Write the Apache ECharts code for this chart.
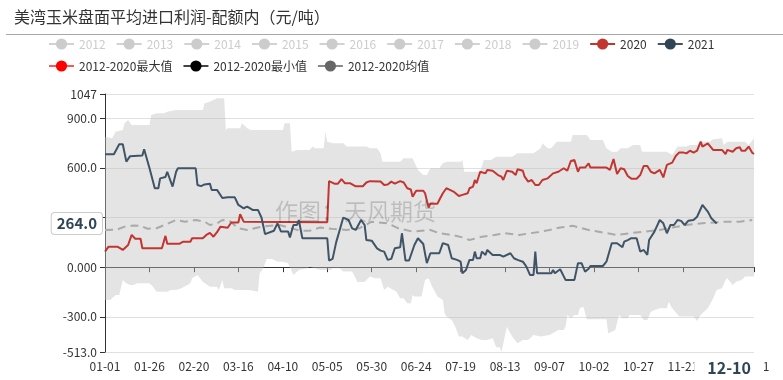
<!DOCTYPE html>
<html>
<head>
<meta charset="utf-8">
<script src="https://cdn.jsdelivr.net/npm/echarts@6/dist/echarts.min.js"></script>
<style>html,body{margin:0;padding:0;background:#fff}#main{width:783px;height:380px}</style>
</head>
<body>
<div id="main"></div>
<script>
// ---------- data ----------
const titleText = '美湾玉米盘面平均进口利润-配额内（元/吨）';
const watermarkText = '作图：天风期货';
const yMin = -513, yMax = 1047;
const yTickValues = [-513, -300, 0, 300, 600, 900, 1047];
const hiddenYears = ['2012', '2013', '2014', '2015', '2016', '2017', '2018', '2019'];
const pointerValue = 264.0;
const pointerDate = '12-10';

// categories: every calendar day (MM-DD) of a leap year
const categories = [];
for (let i = 0; i < 366; i++) {
  const d = new Date(Date.UTC(2020, 0, 1 + i));
  categories.push(String(d.getUTCMonth() + 1).padStart(2, '0') + '-' + String(d.getUTCDate()).padStart(2, '0'));
}

const data2020 = [
  ['01-01',94],['01-03',124],['01-08',124],['01-11',104],['01-12',104],['01-14',134],['01-16',195],['01-18',172],['01-21',172],['01-22',114],
  ['02-02',114],['02-04',189],['02-05',142],['02-12',142],['02-14',154],['02-18',154],['02-19',175],['02-25',175],['02-27',195],['02-29',207],
  ['03-02',184],['03-04',212],['03-06',245],['03-10',238],['03-12',270],['03-16',270],['03-17',320],['03-19',275],['03-20',272],
  ['05-05',272],['05-06',520],['05-09',505],['05-11',505],['05-13',532],['05-15',507],['05-18',507],['05-21',489],['05-25',489],['05-27',512],['05-29',520],
  ['06-04',518],['06-06',497],['06-08',500],['06-10',517],['06-12',505],['06-15',520],['06-17',512],['06-19',477],['06-21',470],['06-22',425],['06-24',462],['06-28',462],['06-29',447],
  ['07-01',360],['07-02',384],['07-06',384],['07-07',406],['07-09',447],['07-11',477],['07-13',467],['07-15',457],['07-18',430],['07-20',437],['07-23',447],['07-24',477],['07-26',487],['07-27',527],['07-28',507],['07-30',577],
  ['08-02',567],['08-03',588],['08-06',583],['08-07',583],['08-09',557],['08-11',547],['08-12',527],['08-14',583],['08-17',577],['08-19',557],['08-20',592],['08-23',583],['08-24',547],['08-26',517],['08-28',527],['08-30',497],
  ['09-01',497],['09-03',527],['09-06',537],['09-07',537],['09-09',567],['09-12',577],['09-15',598],['09-17',583],['09-19',642],['09-21',648],['09-23',577],['09-24',602],['09-27',602],['09-29',628],['09-30',602],
  ['10-09',602],['10-11',588],['10-13',654],['10-15',563],['10-17',598],['10-19',592],['10-21',551],['10-23',535],['10-26',535],['10-28',557],['10-30',612],
  ['11-01',612],['11-03',577],['11-05',567],['11-08',588],['11-10',543],['11-12',618],['11-15',632],['11-17',672],['11-19',694],['11-21',694],['11-23',688],['11-25',704],['11-27',692],['11-29',704],
  ['12-01',759],['12-02',729],['12-05',749],['12-06',749],['12-08',709],['12-13',709],['12-15',684],['12-16',709],['12-19',698],['12-21',719],['12-23',725],['12-24',704],['12-26',704],['12-28',729],['12-30',692],['12-31',684]
];

const data2021 = [
  ['01-01',683],['01-06',683],['01-09',743],['01-11',743],['01-13',638],['01-15',670],['01-22',675],['01-23',713],['01-24',713],['01-26',600],['01-29',477],['01-31',477],
  ['02-01',537],['02-04',545],['02-05',577],['02-08',487],['02-10',577],['02-11',598],['02-21',598],['02-22',497],['02-24',490],['02-26',500],['02-29',505],
  ['03-01',467],['03-04',467],['03-07',418],['03-10',422],['03-14',422],['03-16',376],['03-19',356],['03-21',366],['03-24',346],['03-27',346],['03-29',300],['03-31',200],
  ['04-05',220],['04-07',265],['04-09',215],['04-13',215],['04-14',180],['04-16',255],['04-18',255],['04-19',285],['04-21',175],
  ['05-05',175],['05-06',40],['05-08',50],['05-10',150],['05-12',225],['05-14',300],['05-15',300],['05-17',285],['05-19',235],['05-21',225],['05-22',235],['05-24',285],['05-26',255],['05-27',164],['05-30',160],
  ['06-02',114],['06-04',100],['06-06',94],['06-08',44],['06-10',50],['06-12',114],['06-15',120],['06-16',205],['06-18',40],['06-20',40],['06-23',134],['06-25',175],['06-28',140],['06-30',24],
  ['07-02',84],['07-07',84],['07-09',145],['07-10',145],['07-12',134],['07-14',54],['07-17',44],['07-19',33],['07-20',-37],['07-22',-17],['07-24',44],['07-26',44],['07-27',94],['07-28',54],['07-30',54],['07-31',94],
  ['08-02',74],['08-03',104],['08-06',74],['08-10',74],['08-12',64],['08-16',84],['08-18',54],['08-20',44],['08-23',33],['08-25',3],['08-27',-47],['08-29',-47],['08-30',94],['08-31',-37],
  ['09-08',-37],['09-09',-17],['09-10',-37],['09-11',-37],['09-13',-13],['09-14',-13],['09-16',-77],['09-21',-77],['09-23',24],['09-25',24],['09-27',-27],['09-29',-10],['09-30',7],
  ['10-07',7],['10-09',33],['10-12',145],['10-15',145],['10-18',120],['10-19',154],['10-21',164],['10-23',175],['10-26',175],['10-28',94],['10-30',104],
  ['11-01',74],['11-02',164],['11-05',215],['11-08',285],['11-10',265],['11-12',205],['11-14',255],['11-16',255],['11-18',285],['11-20',280],['11-22',255],['11-24',280],['11-27',285],['11-29',305],
  ['12-02',376],['12-03',366],['12-05',336],['12-06',316],['12-07',296],['12-10',264]
];

const dataMean = [
  ['01-01',225],['01-08',228],['01-12',245],['01-17',252],['01-21',250],['01-25',232],['01-30',235],['02-05',262],['02-10',285],['02-15',275],['02-21',285],['02-26',275],['02-29',255],
  ['03-04',265],['03-07',285],['03-11',280],['03-16',235],['03-21',225],['03-29',245],['04-08',255],['04-20',220],['04-25',220],['05-01',240],['05-09',230],['05-16',225],['05-23',235],['05-30',275],
  ['06-08',265],['06-14',235],['06-22',215],['07-02',225],['07-07',205],['07-14',195],['07-20',180],['07-24',164],['07-31',184],['08-07',195],['08-13',205],['08-21',195],
  ['09-01',213],['09-07',225],['09-13',240],['09-20',250],['09-29',225],['10-07',209],['10-15',195],['10-22',205],['10-31',215],['11-08',225],['11-15',240],['11-23',255],
  ['12-02',265],['12-15',275],['12-23',275],['12-30',285]
];

const dataMax = [
  ['01-01',789],['01-05',779],['01-07',819],['01-11',830],['01-12',870],['01-14',890],['01-16',860],['01-26',860],['01-27',920],['01-30',930],
  ['02-03',930],['02-05',940],['02-10',950],['02-25',950],['02-26',991],['02-29',1000],['03-04',1021],['03-08',1021],['03-09',830],['03-10',840],['03-17',840],['03-18',870],['03-21',840],['03-23',830],
  ['04-10',830],['04-11',870],['04-14',870],['04-15',698],['04-18',709],['04-25',709],['04-27',729],['04-28',719],['05-03',719],['05-04',819],['05-05',759],['05-08',749],['05-14',749],['05-16',729],['05-27',729],['05-29',719],
  ['06-02',719],['06-04',688],['06-05',638],['06-15',638],['06-17',658],['06-22',658],['06-25',588],['06-28',557],['06-30',557],
  ['07-02',598],['07-07',598],['07-09',628],['07-11',638],['07-19',638],['07-20',648],['07-21',577],['07-30',577],['08-01',648],['08-05',648],['08-08',668],['08-17',668],['08-20',688],['08-29',688],
  ['09-02',719],['09-03',749],['09-06',719],['09-08',719],['09-11',759],['09-19',759],['09-20',799],['09-28',799],['09-30',769],['10-07',769],['10-09',719],['10-12',698],['10-15',698],['10-17',719],['10-21',719],['10-24',739],['10-28',739],['10-29',698],
  ['11-12',698],['11-15',678],['11-18',729],['11-23',729],['11-25',739],['11-29',739],['12-01',759],['12-06',759],['12-08',773],['12-13',779],['12-14',739],['12-16',759],['12-26',759],['12-28',739],['12-31',779]
];

const dataMin = [
  ['01-01',-199],['01-04',-199],['01-07',-168],['01-09',-168],['01-11',-77],['01-13',-97],['01-15',-108],['01-17',-108],['01-19',-97],['01-26',-97],['01-28',-118],['01-30',-148],
  ['02-05',-148],['02-07',-138],['02-10',-138],['02-13',-128],['02-18',-97],['02-19',-67],['02-22',-47],['02-25',-88],['02-29',-118],
  ['03-04',-118],['03-05',-138],['03-07',-77],['03-08',-128],['03-12',-128],['03-14',-138],['03-19',-138],['03-23',-140],['03-27',-148],['03-28',-37],['03-30',-7],
  ['04-01',50],['04-04',50],['04-07',33],['04-10',33],['04-13',24],['04-16',-47],['04-19',-17],['04-24',-7],['04-25',3],
  ['05-01',-17],['05-07',-17],['05-08',-7],['05-12',-7],['05-14',-27],['05-19',-27],['05-22',-90],['05-26',-90],['05-29',-57],
  ['06-01',-67],['06-04',-67],['06-06',-138],['06-08',-118],['06-13',-148],['06-15',-188],['06-17',-188],['06-19',-218],['06-21',-218],['06-22',-168],['06-23',-178],['06-27',-178],['06-29',-77],
  ['07-01',-67],['07-03',-118],['07-06',-178],['07-09',-198],['07-10',-279],['07-11',-299],['07-14',-319],['07-16',-360],['07-18',-420],['07-20',-420],['07-23',-440],['07-25',-410],['07-28',-430],['07-31',-440],
  ['08-03',-440],['08-06',-430],['08-08',-485],['08-10',-485],['08-11',-511],['08-14',-360],['08-16',-400],['08-17',-420],['08-20',-460],['08-23',-440],['08-26',-440],['08-29',-410],
  ['09-02',-420],['09-07',-410],['09-12',-380],['09-15',-380],['09-16',-360],['09-17',-289],['09-19',-309],['09-21',-289],['09-23',-289],['09-24',-249],['09-26',-239],['09-28',-315],
  ['10-09',-315],['10-10',-400],['10-12',-390],['10-14',-380],['10-16',-289],['10-18',-309],['10-21',-309],['10-22',-289],['10-28',-289],['10-30',-319],
  ['11-01',-319],['11-03',-269],['11-05',-259],['11-08',-249],['11-12',-249],['11-13',-209],['11-15',-249],['11-19',-299],['11-27',-299],['11-29',-325],
  ['12-01',-289],['12-05',-249],['12-08',-190],['12-10',-138],['12-13',-128],['12-15',-77],['12-16',-67],['12-19',-108],['12-21',-88],['12-24',-77],['12-26',-57],['12-31',-57]
];

// ---------- chart ----------
const FONT = "'Noto Sans CJK SC', 'Noto Sans', sans-serif";
const chart = echarts.init(document.getElementById('main'), null, { renderer: 'canvas' });
const lastIdx = categories.length - 1;
const tickShown = (i) => (i % 25 === 0 && i <= 325) || i === lastIdx;
const ci = (name) => categories.indexOf(name);

const series = [];
hiddenYears.forEach(y => series.push({ name: y, type: 'line', data: [], symbol: 'circle', showSymbol: false }));
series.push({
  name: '2020', type: 'line', data: data2020, symbol: 'circle', showSymbol: false, z: 5,
  itemStyle: { color: '#c23531' }, lineStyle: { color: '#c23531', width: 2 }
});
series.push({
  name: '2021', type: 'line', data: data2021, symbol: 'circle', showSymbol: false, z: 6,
  itemStyle: { color: '#2f4554' }, lineStyle: { color: '#3f5467', width: 2 }
});
series.push({
  name: '2012-2020最大值', type: 'line', data: dataMax, symbol: 'circle', showSymbol: false, silent: true,
  itemStyle: { color: '#ff0000' }, lineStyle: { color: '#ff5555', width: 1, opacity: 0 }
});
series.push({
  name: '2012-2020最小值', type: 'line', data: dataMin, symbol: 'circle', showSymbol: false, silent: true,
  itemStyle: { color: '#000000' }, lineStyle: { color: '#444', width: 1, opacity: 0 }
});
series.push({
  name: '2012-2020均值', type: 'line', data: dataMean, symbol: 'circle', showSymbol: false, z: 4,
  itemStyle: { color: '#666666' }, lineStyle: { color: '#aaaaaa', width: 2, type: [8, 5] }
});
// min-max band drawn from the max and min arrays
series.push({
  name: 'band', type: 'custom', data: dataMax, encode: { x: 0, y: 1 }, silent: true, z: 1,
  renderItem: function (params, api) {
    if (params.dataIndex !== 0) return null;
    const pts = [];
    dataMax.forEach(d => pts.push(api.coord([ci(d[0]), d[1]])));
    for (let i = dataMin.length - 1; i >= 0; i--) pts.push(api.coord([ci(dataMin[i][0]), dataMin[i][1]]));
    return { type: 'polygon', shape: { points: pts }, style: { fill: 'rgba(190,190,190,0.42)' } };
  }
});

const selected = {};
hiddenYears.forEach(y => selected[y] = false);

chart.setOption({
  animation: false,
  textStyle: { fontFamily: FONT },
  title: {
    text: titleText, left: 9, top: 4,
    textStyle: { fontSize: 16, fontWeight: 'normal', color: '#333', fontFamily: FONT }
  },
  legend: {
    left: 43, right: 40, top: 33, itemWidth: 25, itemHeight: 14, itemGap: 10,
    selected: selected,
    inactiveColor: '#ccc',
    textStyle: { fontSize: 12, color: '#333', fontFamily: FONT },
    data: hiddenYears.concat(['2020', '2021',
      { name: '2012-2020最大值', lineStyle: { opacity: 1 } },
      { name: '2012-2020最小值', lineStyle: { opacity: 1 } },
      { name: '2012-2020均值', lineStyle: { type: 'solid', color: '#888' } }])
  },
  grid: { left: 105, right: 29, top: 94, bottom: 28, containLabel: false },
  xAxis: [
    {
      type: 'category', data: categories, boundaryGap: false,
      axisLine: { onZero: true, lineStyle: { color: '#333', width: 1 } },
      axisTick: { show: true, interval: (i) => tickShown(i), length: 5, lineStyle: { color: '#333' } },
      axisLabel: { show: false }, splitLine: { show: false }
    },
    {
      type: 'category', data: categories, boundaryGap: false, position: 'bottom',
      axisLine: { show: false }, axisTick: { show: false }, splitLine: { show: false },
      axisLabel: { show: true, interval: (i) => tickShown(i), showMaxLabel: true, color: '#333', fontSize: 12, margin: 8, fontFamily: FONT },
      axisPointer: {
        show: true, type: 'line', status: 'show', value: categories[351], triggerTooltip: false,
        lineStyle: { opacity: 0 },
        label: {
          show: true, formatter: () => pointerDate, backgroundColor: '#fff', color: '#2f4554',
          fontWeight: 'bold', fontSize: 16, padding: [2, 13], shadowBlur: 0, margin: 6, fontFamily: FONT
        }
      }
    }
  ],
  yAxis: {
    type: 'value', min: yMin, max: yMax,
    axisLine: { show: true, onZero: false, lineStyle: { color: '#333' } },
    axisTick: { show: true, length: 5, customValues: yTickValues, lineStyle: { color: '#333' } },
    splitLine: { show: true, lineStyle: { color: '#e0e0e0' } },
    axisLabel: {
      color: '#333', fontSize: 12, margin: 8, fontFamily: FONT, customValues: yTickValues,
      formatter: (v) => v === yMax ? String(v) : (v === 0 ? '0.000' : v.toFixed(1))
    },
    axisPointer: {
      show: true, type: 'line', status: 'show', value: pointerValue, triggerTooltip: false,
      lineStyle: { opacity: 0 },
      label: {
        show: true, formatter: (p) => Number(p.value).toFixed(1), backgroundColor: '#fff',
        borderColor: '#ccc', borderWidth: 1, color: '#2f4554', fontWeight: 'bold', fontSize: 15,
        padding: [3, 5], shadowBlur: 0, margin: 3, fontFamily: FONT
      }
    }
  },
  graphic: [
    { type: 'line', silent: true, shape: { x1: 6, y1: 34.5, x2: 783, y2: 34.5 }, style: { stroke: '#a8a8a8', lineWidth: 1 } },
    { type: 'text', silent: true, z: 100, left: 275, top: 200,
      style: { text: watermarkText, fontSize: 23, fill: 'rgba(0,0,0,0.17)', fontFamily: FONT } }
  ],
  series: series
});
</script>
</body>
</html>
